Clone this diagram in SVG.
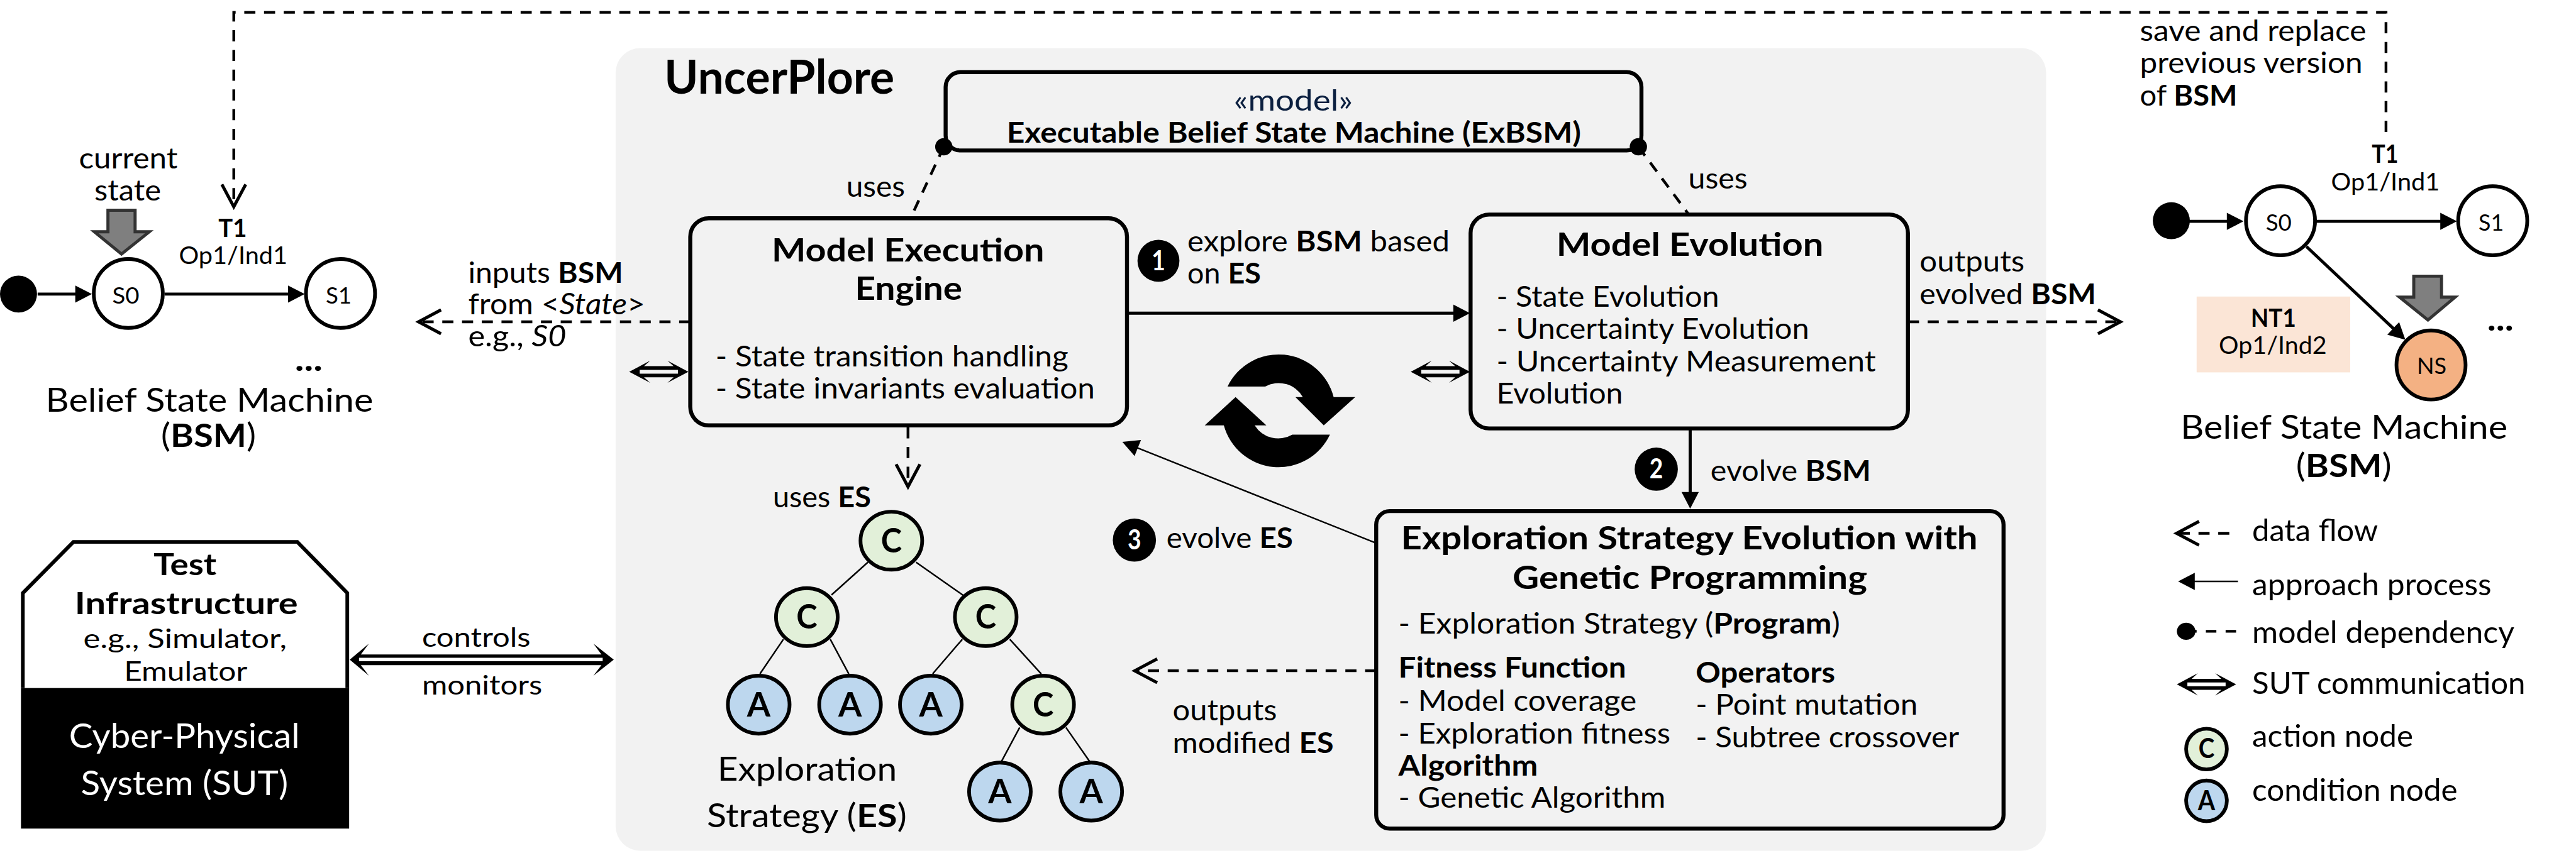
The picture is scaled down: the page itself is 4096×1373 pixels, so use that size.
<svg xmlns="http://www.w3.org/2000/svg" width="4096" height="1373" viewBox="0 0 4096 1373">
<style>
text{font-family:"Lato","Carlito","Noto Sans",sans-serif;fill:#000;font-size:47px}
.b{font-weight:700}.i{font-style:italic}
.t36{font-size:38px}.t38{font-size:40px}.t41{font-size:44px}.t46{font-size:49px}.t50{font-size:53px}.t52{font-size:55px}
.w{fill:#fff}.navy{fill:#0b1f3f}
.box{fill:#f2f2f2;stroke:#000;stroke-width:6.5}
.st{fill:#fff;stroke:#000;stroke-width:6}
.tn{stroke:#000;stroke-width:6}.c{fill:#e2f0d9}.a{fill:#bdd7ee}
.d{fill:none;stroke:#000;stroke-width:4.5;stroke-dasharray:18 14}
.s{fill:none;stroke:#000;stroke-width:5}
.thin{fill:none;stroke:#000;stroke-width:2.5}
.dot{fill:#000}
.gray{fill:#7f7f7f;stroke:#333;stroke-width:5}
</style>
<defs>
<marker id="open" markerUnits="userSpaceOnUse" markerWidth="50" markerHeight="50" viewBox="-4 -22 44 44" refX="29" refY="0" orient="auto" overflow="visible"><path d="M0,-17 L32,0 L0,17" fill="none" stroke="#000" stroke-width="4.5"/></marker>
<marker id="tri" markerUnits="userSpaceOnUse" markerWidth="30" markerHeight="30" viewBox="0 -15 27 30" refX="21" refY="0" orient="auto" overflow="visible"><path d="M0,-14 L27,0 L0,14 Z" fill="#000"/></marker>
<path id="dbl" fill-rule="evenodd" d="M0,0 L34,-18 L24,-9 L72,-9 L62,-18 L96,0 L62,18 L72,9 L24,9 L34,18 Z M17,-3 L79,-3 L79,3 L17,3 Z" fill="#000"/>
</defs>
<g transform="scale(0.98084)">
<rect id="uncerplore-bg" x="998" y="78" width="2319" height="1302" rx="40" fill="#f2f2f2"/>
<g id="connectors">
<path class="d" marker-end="url(#open)" d="M3868,214 V20 H379 V332"/>
<path class="d" marker-end="url(#open)" d="M1119,522 H682"/>
<path class="d" marker-end="url(#open)" d="M3093,522 H3434"/>
<path class="d" marker-end="url(#open)" d="M1472,693 V786"/>
<path class="d" marker-end="url(#open)" d="M2231,1088 H1843"/>
<path class="d" d="M1530,238 L1476,354"/>
<path class="d" d="M2656,238 L2737,347"/>
<path class="s" marker-end="url(#tri)" d="M61,477 H143"/>
<path class="s" marker-end="url(#tri)" d="M267,477 H488"/>
<path class="s" marker-end="url(#tri)" d="M3549,359 H3631"/>
<path class="s" marker-end="url(#tri)" d="M3755,359 H3977"/>
<path class="s" marker-end="url(#tri)" d="M3739,400 L3895,547"/>
<path class="s" marker-end="url(#tri)" d="M1827,508 H2377"/>
<path class="s" stroke-width="4" marker-end="url(#tri)" d="M2740,695 V819"/>
<path class="thin" marker-end="url(#tri)" d="M2231,881 L1825,719"/>
<path class="thin" d="M1407,912 L1348,965"/>
<path class="thin" d="M1485,912 L1562,966"/>
<path class="thin" d="M1270,1037 L1232,1093"/>
<path class="thin" d="M1346,1037 L1376,1093"/>
<path class="thin" d="M1560,1037 L1512,1093"/>
<path class="thin" d="M1637,1037 L1688,1093"/>
<path class="thin" d="M1653,1180 L1623,1236"/>
<path class="thin" d="M1728,1180 L1767,1236"/>
<use href="#dbl" x="1020" y="603"/>
<use href="#dbl" x="2287" y="603"/>
<path fill-rule="evenodd" d="M567,1070 L598,1044 L585,1061.5 L975,1061.5 L962,1044 L995,1070 L962,1096 L975,1079 L585,1079 L598,1096 Z M582,1067 L977,1067 L977,1072.5 L582,1072.5 Z" fill="#000"/>
</g>
<g id="label-current-state">
<text x="128" y="273" textLength="160" lengthAdjust="spacingAndGlyphs">current</text>
<text x="153" y="325" textLength="108" lengthAdjust="spacingAndGlyphs">state</text>
<path class="gray" d="M175,341 H219 V376 H242 L197,412 L153,376 H175 Z"/>
</g>
<g id="bsm-left">
<circle class="dot" cx="30" cy="477" r="30"/>
<circle id="bsm-left-s0" class="st" cx="208" cy="476" r="56"/>
<text class="t36" x="182" y="492" textLength="44" lengthAdjust="spacingAndGlyphs">S0</text>
<circle id="bsm-left-s1" class="st" cx="552" cy="476" r="56"/>
<text class="t36" x="528" y="492" textLength="42" lengthAdjust="spacingAndGlyphs">S1</text>
<text class="t38 b" x="354" y="384" textLength="46" lengthAdjust="spacingAndGlyphs">T1</text>
<text class="t38" x="290" y="428" textLength="176" lengthAdjust="spacingAndGlyphs">Op1/Ind1</text>
<text class="t50 b" x="478" y="602" textLength="45" lengthAdjust="spacingAndGlyphs">...</text>
<text class="t50" x="74" y="668" textLength="531" lengthAdjust="spacingAndGlyphs">Belief State Machine</text>
<text class="t50" x="261" y="725" textLength="154" lengthAdjust="spacingAndGlyphs">(<tspan class="b">BSM</tspan>)</text>
</g>
<g id="label-inputs">
<text x="759" y="459" textLength="251" lengthAdjust="spacingAndGlyphs">inputs <tspan class="b">BSM</tspan></text>
<text x="759" y="510" textLength="287" lengthAdjust="spacingAndGlyphs">from &lt;<tspan class="i">State</tspan>&gt;</text>
<text x="759" y="562" textLength="159" lengthAdjust="spacingAndGlyphs">e.g., <tspan class="i">S0</tspan></text>
</g>
<text id="title" class="b" style="font-size:76px" x="1077" y="152" textLength="373" lengthAdjust="spacingAndGlyphs">UncerPlore</text>
<g id="exbsm">
<rect class="box" x="1533" y="117" width="1128" height="127" rx="24"/>
<ellipse class="dot" cx="1530" cy="238" rx="14" ry="14"/>
<ellipse class="dot" cx="2656" cy="238" rx="14" ry="14"/>
<text class="navy" x="2000" y="179" textLength="193" lengthAdjust="spacingAndGlyphs">«model»</text>
<text class="b" x="1632" y="231" textLength="931" lengthAdjust="spacingAndGlyphs">Executable Belief State Machine (ExBSM)</text>
</g>
<text id="label-uses-1" x="1372" y="319" textLength="95" lengthAdjust="spacingAndGlyphs">uses</text>
<text id="label-uses-2" x="2737" y="306" textLength="96" lengthAdjust="spacingAndGlyphs">uses</text>
<g id="model-execution-engine">
<rect class="box" x="1119" y="354" width="708" height="336" rx="30"/>
<text class="t50 b" x="1251" y="424" textLength="442" lengthAdjust="spacingAndGlyphs">Model Execution</text>
<text class="t50 b" x="1386" y="486" textLength="174" lengthAdjust="spacingAndGlyphs">Engine</text>
<text x="1160" y="594" textLength="572" lengthAdjust="spacingAndGlyphs">- State transition handling</text>
<text x="1160" y="646" textLength="615" lengthAdjust="spacingAndGlyphs">- State invariants evaluation</text>
</g>
<g id="model-evolution">
<rect class="box" x="2384" y="348" width="709" height="347" rx="30"/>
<text class="t50 b" x="2523" y="415" textLength="433" lengthAdjust="spacingAndGlyphs">Model Evolution</text>
<text x="2426" y="498" textLength="361" lengthAdjust="spacingAndGlyphs">- State Evolution</text>
<text x="2426" y="550" textLength="507" lengthAdjust="spacingAndGlyphs">- Uncertainty Evolution</text>
<text x="2426" y="603" textLength="615" lengthAdjust="spacingAndGlyphs">- Uncertainty Measurement</text>
<text x="2426" y="655" textLength="205" lengthAdjust="spacingAndGlyphs">Evolution</text>
</g>
<g id="step-1">
<circle class="dot" cx="1878" cy="423" r="34"/>
<text class="w b t41" x="1867" y="438" textLength="22" lengthAdjust="spacingAndGlyphs">1</text>
<text x="1925" y="408" textLength="425" lengthAdjust="spacingAndGlyphs">explore <tspan class="b">BSM</tspan> based</text>
<text x="1925" y="460" textLength="119" lengthAdjust="spacingAndGlyphs">on <tspan class="b">ES</tspan></text>
</g>
<g id="step-2">
<circle class="dot" cx="2685" cy="761" r="35"/>
<text class="w b t41" x="2674" y="776" textLength="22" lengthAdjust="spacingAndGlyphs">2</text>
<text x="2773" y="780" textLength="260" lengthAdjust="spacingAndGlyphs">evolve <tspan class="b">BSM</tspan></text>
</g>
<g id="step-3">
<circle class="dot" cx="1839" cy="876" r="35"/>
<text class="w b t41" x="1828" y="891" textLength="22" lengthAdjust="spacingAndGlyphs">3</text>
<text x="1891" y="889" textLength="205" lengthAdjust="spacingAndGlyphs">evolve <tspan class="b">ES</tspan></text>
</g>
<g id="label-outputs-bsm">
<text x="3112" y="440" textLength="170" lengthAdjust="spacingAndGlyphs">outputs</text>
<text x="3112" y="493" textLength="286" lengthAdjust="spacingAndGlyphs">evolved <tspan class="b">BSM</tspan></text>
</g>
<g id="cycle-icon">
<path d="M1990,627 A92,92 0 0 1 2162,644 L2197,644 L2146,690 L2100,644 L2112,644 A45,45 0 0 0 2051,627 Z" fill="#000"/>
<path d="M2156,705 A92,92 0 0 1 1984,690 L1953,690 L2003,644 L2053,690 L2034,690 A45,45 0 0 0 2095,705 Z" fill="#000"/>
</g>
<g id="label-uses-es"><text x="1253" y="823" textLength="159" lengthAdjust="spacingAndGlyphs">uses <tspan class="b">ES</tspan></text></g>
<g id="exploration-strategy-tree">
<g id="n1"><ellipse class="tn c" cx="1445" cy="877" rx="50" ry="47"/><text class="t52 b" x="1428" y="896" textLength="34" lengthAdjust="spacingAndGlyphs">C</text></g>
<g id="n2"><ellipse class="tn c" cx="1308" cy="1001" rx="50" ry="47"/><text class="t52 b" x="1291" y="1020" textLength="34" lengthAdjust="spacingAndGlyphs">C</text></g>
<g id="n3"><ellipse class="tn c" cx="1598" cy="1001" rx="50" ry="47"/><text class="t52 b" x="1581" y="1020" textLength="34" lengthAdjust="spacingAndGlyphs">C</text></g>
<g id="n4"><ellipse class="tn a" cx="1230" cy="1143" rx="50" ry="47"/><text class="t52 b" x="1211" y="1162" textLength="38" lengthAdjust="spacingAndGlyphs">A</text></g>
<g id="n5"><ellipse class="tn a" cx="1378" cy="1143" rx="50" ry="47"/><text class="t52 b" x="1359" y="1162" textLength="38" lengthAdjust="spacingAndGlyphs">A</text></g>
<g id="n6"><ellipse class="tn a" cx="1509" cy="1143" rx="50" ry="47"/><text class="t52 b" x="1490" y="1162" textLength="38" lengthAdjust="spacingAndGlyphs">A</text></g>
<g id="n7"><ellipse class="tn c" cx="1691" cy="1143" rx="50" ry="47"/><text class="t52 b" x="1674" y="1162" textLength="34" lengthAdjust="spacingAndGlyphs">C</text></g>
<g id="n8"><ellipse class="tn a" cx="1621" cy="1284" rx="50" ry="47"/><text class="t52 b" x="1602" y="1303" textLength="38" lengthAdjust="spacingAndGlyphs">A</text></g>
<g id="n9"><ellipse class="tn a" cx="1769" cy="1284" rx="50" ry="47"/><text class="t52 b" x="1750" y="1303" textLength="38" lengthAdjust="spacingAndGlyphs">A</text></g>
<text class="t50" x="1163" y="1266" textLength="291" lengthAdjust="spacingAndGlyphs">Exploration</text>
<text class="t50" x="1146" y="1342" textLength="324" lengthAdjust="spacingAndGlyphs">Strategy (<tspan class="b">ES</tspan>)</text>
</g>
<g id="label-outputs-es">
<text x="1901" y="1168" textLength="169" lengthAdjust="spacingAndGlyphs">outputs</text>
<text x="1901" y="1221" textLength="261" lengthAdjust="spacingAndGlyphs">modified <tspan class="b">ES</tspan></text>
</g>
<g id="es-evolution">
<rect class="box" x="2231" y="829" width="1017" height="515" rx="22"/>
<text class="t50 b" x="2271" y="891" textLength="935" lengthAdjust="spacingAndGlyphs">Exploration Strategy Evolution with</text>
<text class="t50 b" x="2452" y="955" textLength="575" lengthAdjust="spacingAndGlyphs">Genetic Programming</text>
<text x="2267" y="1028" textLength="716" lengthAdjust="spacingAndGlyphs">- Exploration Strategy (<tspan class="b">Program</tspan>)</text>
<text class="b" x="2267" y="1099" textLength="369" lengthAdjust="spacingAndGlyphs">Fitness Function</text>
<text x="2267" y="1153" textLength="386" lengthAdjust="spacingAndGlyphs">- Model coverage</text>
<text x="2267" y="1206" textLength="441" lengthAdjust="spacingAndGlyphs">- Exploration fitness</text>
<text class="b" x="2267" y="1258" textLength="226" lengthAdjust="spacingAndGlyphs">Algorithm</text>
<text x="2267" y="1310" textLength="433" lengthAdjust="spacingAndGlyphs">- Genetic Algorithm</text>
<text class="b" x="2749" y="1107" textLength="226" lengthAdjust="spacingAndGlyphs">Operators</text>
<text x="2749" y="1159" textLength="360" lengthAdjust="spacingAndGlyphs">- Point mutation</text>
<text x="2749" y="1212" textLength="427" lengthAdjust="spacingAndGlyphs">- Subtree crossover</text>
</g>
<g id="test-infrastructure">
<path d="M37,1116 V962 L119,879 H482 L563,962 V1116" fill="#fff" stroke="#000" stroke-width="6"/>
<rect x="34" y="1116" width="532" height="228" fill="#000"/>
<text class="t46 b" x="249" y="933" textLength="102" lengthAdjust="spacingAndGlyphs">Test</text>
<text class="t46 b" x="121" y="996" textLength="362" lengthAdjust="spacingAndGlyphs">Infrastructure</text>
<text class="t41" x="135" y="1051" textLength="330" lengthAdjust="spacingAndGlyphs">e.g., Simulator,</text>
<text class="t41" x="201" y="1104" textLength="200" lengthAdjust="spacingAndGlyphs">Emulator</text>
<text class="t52 w" x="112" y="1213" textLength="374" lengthAdjust="spacingAndGlyphs">Cyber-Physical</text>
<text class="t52 w" x="131" y="1290" textLength="336" lengthAdjust="spacingAndGlyphs">System (SUT)</text>
</g>
<text id="label-controls" class="t41" x="684" y="1049" textLength="176" lengthAdjust="spacingAndGlyphs">controls</text>
<text id="label-monitors" class="t41" x="684" y="1127" textLength="195" lengthAdjust="spacingAndGlyphs">monitors</text>
<g id="label-save">
<text x="3469" y="66" textLength="367" lengthAdjust="spacingAndGlyphs">save and replace</text>
<text x="3469" y="118" textLength="361" lengthAdjust="spacingAndGlyphs">previous version</text>
<text x="3469" y="171" textLength="158" lengthAdjust="spacingAndGlyphs">of <tspan class="b">BSM</tspan></text>
</g>
<g id="bsm-right">
<circle class="dot" cx="3520" cy="358" r="30"/>
<circle id="bsm-right-s0" class="st" cx="3697" cy="358" r="56"/>
<text class="t36" x="3673" y="374" textLength="42" lengthAdjust="spacingAndGlyphs">S0</text>
<circle id="bsm-right-s1" class="st" cx="4041" cy="358" r="56"/>
<text class="t36" x="4018" y="374" textLength="41" lengthAdjust="spacingAndGlyphs">S1</text>
<text class="t38 b" x="3845" y="264" textLength="43" lengthAdjust="spacingAndGlyphs">T1</text>
<text class="t38" x="3779" y="309" textLength="176" lengthAdjust="spacingAndGlyphs">Op1/Ind1</text>
<rect x="3561" y="481" width="249" height="123" fill="#fbe5d6"/>
<text class="t38 b" x="3649" y="530" textLength="73" lengthAdjust="spacingAndGlyphs">NT1</text>
<text class="t38" x="3597" y="574" textLength="175" lengthAdjust="spacingAndGlyphs">Op1/Ind2</text>
<path class="gray" d="M3913,448 H3958 V482 H3980 L3936,519 L3890,482 H3913 Z"/>
<circle id="bsm-right-ns" cx="3941" cy="592" r="56" fill="#f4b183" stroke="#000" stroke-width="6"/>
<text class="t36" x="3918" y="607" textLength="48" lengthAdjust="spacingAndGlyphs">NS</text>
<text class="t50 b" x="4032" y="536" textLength="43" lengthAdjust="spacingAndGlyphs">...</text>
<text class="t50" x="3535" y="712" textLength="530" lengthAdjust="spacingAndGlyphs">Belief State Machine</text>
<text class="t50" x="3722" y="774" textLength="155" lengthAdjust="spacingAndGlyphs">(<tspan class="b">BSM</tspan>)</text>
</g>
<g id="legend">
<path class="d" marker-end="url(#open)" d="M3614,865 H3532"/>
<text class="t46" x="3651" y="878" textLength="204" lengthAdjust="spacingAndGlyphs">data flow</text>
<path class="thin" marker-end="url(#tri)" d="M3628,943 H3537"/>
<text class="t46" x="3651" y="965" textLength="388" lengthAdjust="spacingAndGlyphs">approach process</text>
<ellipse class="dot" cx="3544" cy="1024" rx="15" ry="14"/>
<path class="d" d="M3544,1024 H3626" style="stroke-dasharray:17 15"/>
<text class="t46" x="3651" y="1043" textLength="425" lengthAdjust="spacingAndGlyphs">model dependency</text>
<use href="#dbl" x="3529" y="1110"/>
<text class="t46" x="3651" y="1126" textLength="443" lengthAdjust="spacingAndGlyphs">SUT communication</text>
<ellipse class="tn c" cx="3577" cy="1215" rx="33" ry="33"/>
<text class="t41 b" x="3564" y="1230" textLength="26" lengthAdjust="spacingAndGlyphs">C</text>
<text class="t46" x="3651" y="1211" textLength="261" lengthAdjust="spacingAndGlyphs">action node</text>
<ellipse class="tn a" cx="3577" cy="1299" rx="33" ry="33"/>
<text class="t41 b" x="3563" y="1314" textLength="28" lengthAdjust="spacingAndGlyphs">A</text>
<text class="t46" x="3651" y="1299" textLength="333" lengthAdjust="spacingAndGlyphs">condition node</text>
</g>
</g>
</svg>
